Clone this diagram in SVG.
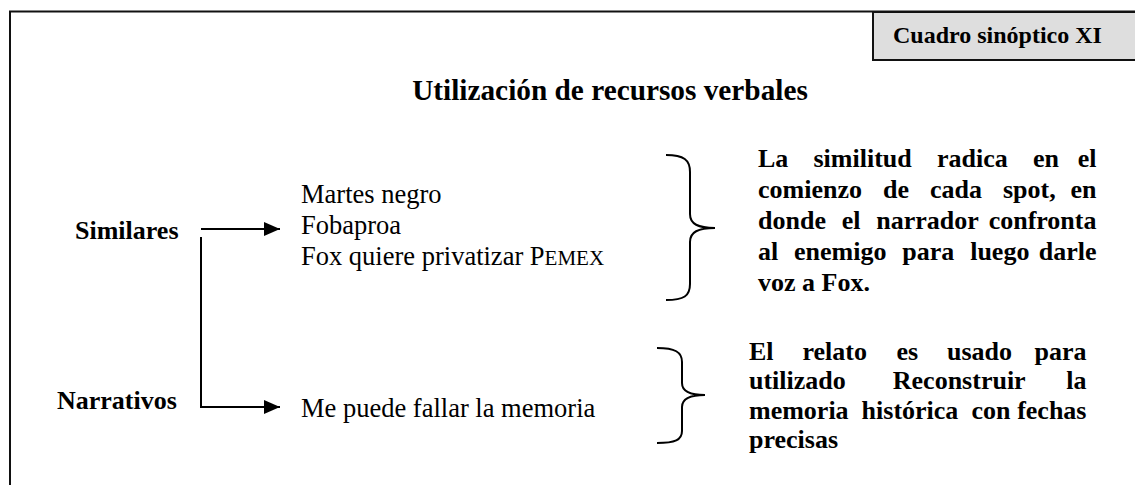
<svg xmlns="http://www.w3.org/2000/svg" width="1135" height="485" viewBox="0 0 1135 485">
<style>
text{font-family:"Liberation Serif","Times New Roman",serif;fill:#000}
.b{font-weight:bold}
.r{font-size:26.5px}
.bt{font-size:26px;font-weight:bold}
.ln{stroke:#000;stroke-width:2;fill:none}
.br{stroke:#000;stroke-width:2;fill:none}
</style>
<defs>
<marker id="ah2" viewBox="0 0 16 14" refX="16" refY="7" markerWidth="16" markerHeight="14" markerUnits="userSpaceOnUse" orient="auto">
<path d="M0,0 L16,7 L0,14 z" fill="#000"/>
</marker>
</defs>
<rect width="1135" height="485" fill="#fff"/>
<g id="frame">
<path d="M10,485 V11.5 H1135" stroke="#111" stroke-width="2" fill="none"/>
</g>
<g id="badge">
<rect x="873" y="12" width="263" height="48" fill="#dedede" stroke="#111" stroke-width="2"/>
<text x="893" y="43" class="b" style="font-size:24px">Cuadro sinóptico XI</text>
</g>
<g id="title">
<text x="610" y="100" text-anchor="middle" class="b" style="font-size:29.3px">Utilización de recursos verbales</text>
</g>
<g id="similares">
<text x="75" y="239" class="bt">Similares</text>
</g>
<g id="narrativos">
<text x="57" y="409" class="bt">Narrativos</text>
</g>
<g id="items-similares">
<text class="r"><tspan x="301" y="203">Martes negro</tspan><tspan x="301" y="234">Fobaproa</tspan><tspan x="301" y="265">Fox quiere privatizar P<tspan style="font-size:21px">EMEX</tspan></tspan></text>
</g>
<g id="items-narrativos">
<text x="301" y="417" class="r">Me puede fallar la memoria</text>
</g>
<g id="connectors">
<path d="M201,229 H280" class="ln" marker-end="url(#ah2)"/>
<path d="M201,237 V407 H280" class="ln" marker-end="url(#ah2)"/>
</g>
<g id="brace1">
<path class="br" d="M666,155 C684,155 690,160 690,172 V214 C690,224 698,228 715,228 C698,228 690,232 690,242 V284 C690,296 684,300 666,300"/>
</g>
<g id="brace2">
<path class="br" d="M657,348 C675,348 682,352 682,362 V383 C682,391 690,395 705,395 C690,395 682,399 682,407 V431 C682,440 675,443 657,443"/>
</g>
<g id="note1">
<text class="bt">
<tspan x="758" y="167">La</tspan><tspan x="813.5" y="167">similitud</tspan><tspan x="937" y="167">radica</tspan><tspan x="1033" y="167">en</tspan><tspan x="1103" y="167" text-anchor="end">el</tspan>
<tspan x="758" y="198">comienzo</tspan><tspan x="883" y="198">de</tspan><tspan x="930" y="198">cada</tspan><tspan x="1003" y="198">spot,</tspan><tspan x="1103" y="198" text-anchor="end">en</tspan>
<tspan x="758" y="229">donde</tspan><tspan x="841.7" y="229">el</tspan><tspan x="876.3" y="229">narrador</tspan><tspan x="1103" y="229" text-anchor="end">confronta</tspan>
<tspan x="758" y="260">al</tspan><tspan x="794" y="260">enemigo</tspan><tspan x="902.3" y="260">para</tspan><tspan x="970.2" y="260">luego</tspan><tspan x="1103" y="260" text-anchor="end">darle</tspan>
<tspan x="758" y="291">voz a Fox.</tspan>
</text>
</g>
<g id="note2">
<text class="bt">
<tspan x="749" y="360">El</tspan><tspan x="802.5" y="360">relato</tspan><tspan x="896.4" y="360">es</tspan><tspan x="947" y="360">usado</tspan><tspan x="1093" y="360" text-anchor="end">para</tspan>
<tspan x="749" y="389">utilizado</tspan><tspan x="892.8" y="389">Reconstruir</tspan><tspan x="1093" y="389" text-anchor="end">la</tspan>
<tspan x="749" y="419">memoria</tspan><tspan x="861.6" y="419">histórica</tspan><tspan x="971.4" y="419">con</tspan><tspan x="1093" y="419" text-anchor="end">fechas</tspan>
<tspan x="749" y="448">precisas</tspan>
</text>
</g>
</svg>
